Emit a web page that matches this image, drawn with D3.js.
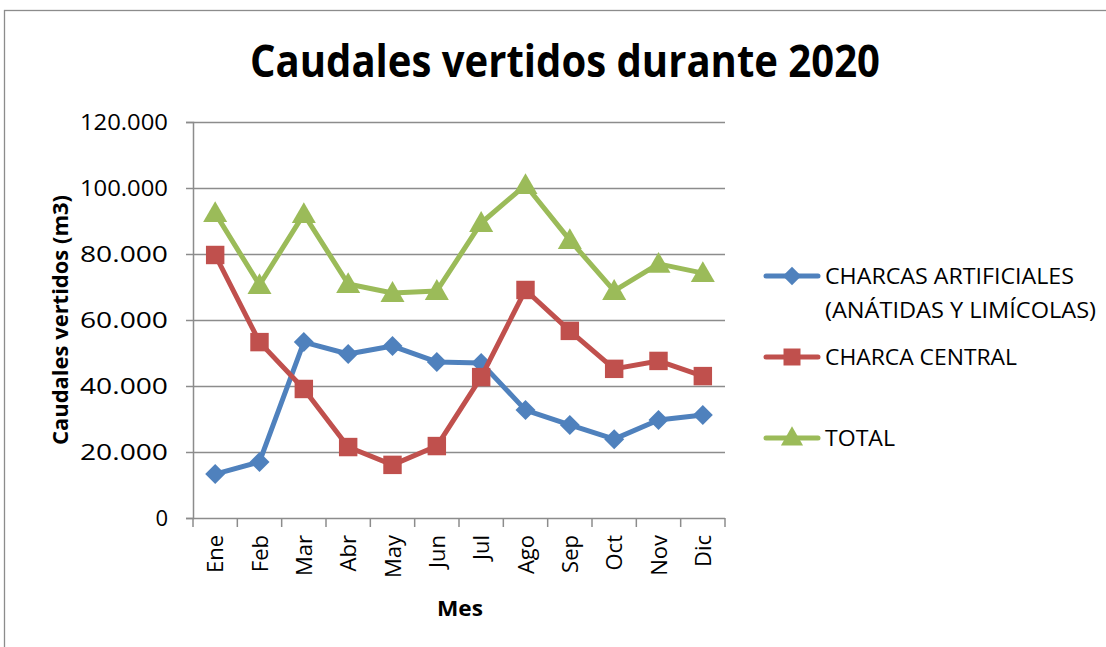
<!DOCTYPE html>
<html>
<head>
<meta charset="utf-8">
<script src="https://cdn.jsdelivr.net/npm/d3@7"></script>
<style>
body { margin:0; background:#fff; }
text { font-family: "Open Sans", "Noto Sans", sans-serif; fill:#000; }
</style>
</head>
<body>
<svg id="chart"></svg>
<script>
// datos
var meses = ["Ene","Feb","Mar","Abr","May","Jun","Jul","Ago","Sep","Oct","Nov","Dic"];
var artificiales = [13300,17000,53300,49700,52100,47300,47000,32700,28200,23900,29700,31200];
var central = [79700,53300,39100,21500,16100,21800,42700,69100,56700,45200,47600,43000];
var total = [92400,70600,92100,70900,68200,68800,89400,100900,84200,68800,77000,74200];
var yTicks = [0,20000,40000,60000,80000,100000,120000];

// rombo = cuadrado girado 45 grados
var series = [
    {name:["CHARCAS ARTIFICIALES","(ANÁTIDAS Y LIMÍCOLAS)"], values:artificiales, color:"#4F81BD", symbol:d3.symbolSquare, size:200, rot:45, dy:0},
    {name:["CHARCA CENTRAL"], values:central, color:"#C0504D", symbol:d3.symbolSquare, size:340, rot:0, dy:0},
    {name:["TOTAL"], values:total, color:"#9BBB59", symbol:d3.symbolTriangle, size:250, rot:0, dy:2}
];

var screen = {width:1106, height:647};
var margins = {top:122, left:193, right:381, bottom:129};
var graph = {
    width: screen.width - margins.left - margins.right,
    height: screen.height - margins.top - margins.bottom
};

var svg = d3.select("#chart")
    .attr("width", screen.width)
    .attr("height", screen.height);

// marco
svg.append("rect")
    .attr("x", 4.5).attr("y", 10.5)
    .attr("width", 1120).attr("height", 700)
    .attr("fill", "none")
    .attr("stroke", "#8c8c8c")
    .attr("stroke-width", 1.3);

svg.append("text")
    .attr("x", 565).attr("y", 77)
    .attr("text-anchor", "middle")
    .attr("font-size", 44).attr("font-weight", "bold")
    .attr("textLength", 630).attr("lengthAdjust", "spacingAndGlyphs")
    .text("Caudales vertidos durante 2020");

var xScale = d3.scaleBand()
    .domain(meses)
    .range([0, graph.width]);

var yScale = d3.scaleLinear()
    .domain([0, 120000])
    .range([graph.height, 0]);

var g = svg.append("g")
    .attr("transform", "translate(" + margins.left + "," + margins.top + ")");

// lineas de cuadricula
g.selectAll("line.grid")
    .data(yTicks.slice(1))
    .enter()
    .append("line")
    .attr("x1", 0).attr("x2", graph.width)
    .attr("y1", function(d){ return Math.round(yScale(d)) + 0.5; })
    .attr("y2", function(d){ return Math.round(yScale(d)) + 0.5; })
    .attr("stroke", "#8c8c8c").attr("stroke-width", 1.5);

var fmt = function(d){ return d === 0 ? "0" : d3.format(",")(d).replace(/,/g, "."); };

var yAxis = d3.axisLeft(yScale).tickValues(yTicks).tickFormat(fmt).tickSize(7).tickPadding(18);
var yg = g.append("g").call(yAxis);
yg.select(".domain").attr("stroke", "#8c8c8c").attr("stroke-width", 1.5);
yg.selectAll(".tick line").attr("stroke", "#8c8c8c").attr("stroke-width", 1.5);
yg.selectAll(".tick text").attr("font-size", 22).attr("font-family", "Open Sans")
    .attr("dy", "0.36em")
    .attr("textLength", 88).attr("lengthAdjust", "spacingAndGlyphs");
yg.selectAll(".tick text").filter(function(d){ return d === 0; }).attr("textLength", null);

// eje x con marcas en los limites de categoria
var xg = g.append("g").attr("transform", "translate(0," + graph.height + ")");
xg.append("line")
    .attr("x1", 0).attr("x2", graph.width)
    .attr("y1", 0.5).attr("y2", 0.5)
    .attr("stroke", "#8c8c8c").attr("stroke-width", 1.5);
xg.selectAll("line.tk")
    .data(d3.range(meses.length + 1))
    .enter()
    .append("line")
    .attr("x1", function(i){ return i * xScale.step(); })
    .attr("x2", function(i){ return i * xScale.step(); })
    .attr("y1", 0).attr("y2", 9)
    .attr("stroke", "#8c8c8c").attr("stroke-width", 1.5);
xg.selectAll("text")
    .data(meses)
    .enter()
    .append("text")
    .attr("transform", function(d){
        return "translate(" + (xScale(d) + xScale.bandwidth()/2 + 8) + ",17) rotate(-90)";
    })
    .attr("text-anchor", "end")
    .attr("font-size", 22)
    .text(function(d){ return d; });

svg.append("text")
    .attr("x", 460).attr("y", 616)
    .attr("text-anchor", "middle")
    .attr("font-size", 22).attr("font-weight", "bold")
    .attr("textLength", 46).attr("lengthAdjust", "spacingAndGlyphs")
    .text("Mes");

svg.append("text")
    .attr("transform", "translate(68,320) rotate(-90)")
    .attr("text-anchor", "middle")
    .attr("font-size", 22).attr("font-weight", "bold")
    .attr("textLength", 250).attr("lengthAdjust", "spacingAndGlyphs")
    .text("Caudales vertidos (m3)");

var line = d3.line()
    .x(function(d, i){ return xScale(meses[i]) + xScale.bandwidth()/2; })
    .y(function(d){ return yScale(d); });

series.forEach(function(s){
    g.append("path")
        .datum(s.values)
        .attr("d", line)
        .attr("fill", "none")
        .attr("stroke", s.color)
        .attr("stroke-width", 5)
        .attr("stroke-linejoin", "round");
    g.selectAll(null)
        .data(s.values)
        .enter()
        .append("path")
        .attr("d", d3.symbol().type(s.symbol).size(s.size))
        .attr("transform", function(d, i){
            return "translate(" + (xScale(meses[i]) + xScale.bandwidth()/2) + "," + (yScale(d) + s.dy) + ") rotate(" + s.rot + ")";
        })
        .attr("fill", s.color);
});

// leyenda
var legendY = [276, 357, 438];
var legendLen = [[249, 271], [192], [70]];
var legend = svg.append("g");
series.forEach(function(s, k){
    var y = legendY[k];
    legend.append("line")
        .attr("x1", 766).attr("x2", 818)
        .attr("y1", y).attr("y2", y)
        .attr("stroke", s.color).attr("stroke-width", 5)
        .attr("stroke-linecap", "round");
    legend.append("path")
        .attr("d", d3.symbol().type(s.symbol).size(s.size * 0.85))
        .attr("transform", "translate(792," + (y + s.dy / 2) + ") rotate(" + s.rot + ")")
        .attr("fill", s.color);
    s.name.forEach(function(t, j){
        legend.append("text")
            .attr("x", 825).attr("y", y + 8 + j * 34)
            .attr("font-size", 22)
            .attr("textLength", legendLen[k][j])
            .attr("lengthAdjust", "spacingAndGlyphs")
            .text(t);
    });
});
</script>
</body>
</html>
